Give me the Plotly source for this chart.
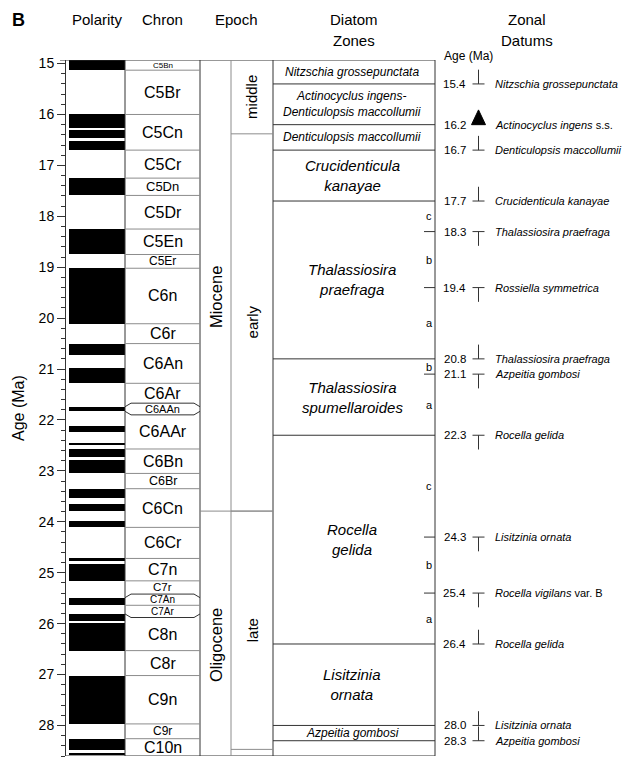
import plotly.graph_objects as go

# ---------------- DATA ----------------
Y_TOP, Y_BOT = 14.93, 28.6

# normal-polarity (black) intervals, Ma
polarity_top = [14.93, 16.00, 16.30, 16.52, 17.25, 18.25, 19.02, 20.50, 20.98, 21.74,
                22.12, 22.45, 22.57, 22.79, 23.35, 23.66, 23.98, 24.72, 24.82, 25.49,
                25.81, 25.99, 27.02, 28.26, 28.54]
polarity_base = [15.13, 16.26, 16.47, 16.70, 17.59, 18.75, 20.11, 20.72, 21.28, 21.83,
                 22.23, 22.49, 22.72, 23.05, 23.53, 23.79, 24.11, 24.77, 25.16, 25.64,
                 25.95, 26.53, 27.97, 28.49, 28.58]

chron_names = ["C5Bn", "C5Br", "C5Cn", "C5Cr", "C5Dn", "C5Dr", "C5En", "C5Er", "C6n", "C6r",
               "C6An", "C6Ar", "C6AAn", "C6AAr", "C6Bn", "C6Br", "C6Cn", "C6Cr", "C7n", "C7r",
               "C7An", "C7Ar", "C8n", "C8r", "C9n", "C9r", "C10n"]
chron_top = [14.93, 15.13, 16.00, 16.70, 17.25, 17.59, 18.25, 18.75, 19.02, 20.11,
             20.50, 21.28, 21.74, 21.83, 22.57, 23.05, 23.35, 24.11, 24.72, 25.16,
             25.49, 25.64, 25.81, 26.53, 27.02, 27.97, 28.26]
chron_base = chron_top[1:] + [28.6]

epoch_names = ["Miocene", "Oligocene"]
epoch_top = [14.93, 23.79]
epoch_base = [23.79, 28.6]

subepoch_names = ["middle", "early", "late", ""]
subepoch_top = [14.93, 16.38, 23.79, 28.47]
subepoch_base = [16.38, 23.79, 28.47, 28.6]

zone_names = ["Nitzschia grossepunctata", "Actinocyclus ingens-<br>Denticulopsis maccollumii",
              "Denticulopsis maccollumii", "Crucidenticula<br>kanayae", "Thalassiosira<br>praefraga",
              "Thalassiosira<br>spumellaroides", "Rocella<br>gelida", "Lisitzinia<br>ornata",
              "Azpeitia gombosi", ""]
zone_top = [14.93, 15.4, 16.2, 16.7, 17.7, 20.8, 22.3, 26.4, 28.0, 28.3]
zone_base = [15.4, 16.2, 16.7, 17.7, 20.8, 22.3, 26.4, 28.0, 28.3, 28.6]

subzone_letters = ["c", "b", "a", "b", "a", "c", "b", "a"]
subzone_top = [17.7, 18.3, 19.4, 20.8, 21.1, 22.3, 24.3, 25.4]
subzone_base = [18.3, 19.4, 20.8, 21.1, 22.3, 24.3, 25.4, 26.4]

datum_age = [15.4, 16.2, 16.7, 17.7, 18.3, 19.4, 20.8, 21.1, 22.3, 24.3, 25.4, 26.4, 28.0, 28.3]
datum_kind = ["up", "tri", "up", "up", "down", "down", "up", "down", "down", "down", "down",
              "up", "up", "up"]
datum_species = ["<i>Nitzschia grossepunctata</i>", "<i>Actinocyclus ingens</i> s.s.",
                 "<i>Denticulopsis maccollumii</i>", "<i>Crucidenticula kanayae</i>",
                 "<i>Thalassiosira praefraga</i>", "<i>Rossiella symmetrica</i>",
                 "<i>Thalassiosira praefraga</i>", "<i>Azpeitia gombosi</i>",
                 "<i>Rocella gelida</i>", "<i>Lisitzinia ornata</i>",
                 "<i>Rocella vigilans</i> var. B", "<i>Rocella gelida</i>",
                 "<i>Lisitzinia ornata</i>", "<i>Azpeitia gombosi</i>"]

# ---------------- STYLE / LAYOUT ----------------
# The page body has an 8px margin; the figure is sized so that it fills the
# window exactly and x data units equal window pixels.
OFF = 8
WIN_W, WIN_H = 641, 765
W, H = WIN_W - OFF, WIN_H - OFF
PLOT_TOP_PX, PLOT_BOT_PX = 60, 756          # window pixels
MT = PLOT_TOP_PX - OFF
MB = H - (PLOT_BOT_PX - OFF)
FONT = "Liberation Sans, Arial, Helvetica, sans-serif"
DARK = "#333333"
GRAY = "#8c8c8c"

X_AXIS = 65
POL_X0, POL_X1 = 69, 125
CHR_X0, CHR_X1 = 125, 200
EP_X0, EP_X1, EP_X2 = 200, 231, 273
ZN_X0, ZN_X1 = 273, 435
SUB_TICK_X0 = 424
DAT_AGE_X, DAT_SYM_X, DAT_TXT_X = 467, 478.5, 494

CHRON_SIZE = {"C5Bn": 8, "C5Dn": 13, "C5Er": 12, "C6AAn": 11, "C6Br": 12.5, "C7r": 11.5,
              "C7An": 10, "C7Ar": 10, "C9r": 12}
BRACKET = {"C6AAn", "C7An", "C7Ar"}
BRACKET_PAD = 0.07
ZONE_SMALL = {"Nitzschia grossepunctata", "Actinocyclus ingens-<br>Denticulopsis maccollumii",
              "Denticulopsis maccollumii", "Azpeitia gombosi"}


def py(px):
    """window pixel row -> paper y"""
    return 1 - (px - PLOT_TOP_PX) / (PLOT_BOT_PX - PLOT_TOP_PX)


fig = go.Figure()

# polarity bars
fig.add_trace(go.Bar(
    x=[(POL_X0 + POL_X1) / 2] * len(polarity_top),
    y=[b - t for t, b in zip(polarity_top, polarity_base)],
    base=polarity_top,
    width=POL_X1 - POL_X0,
    marker=dict(color="black", line=dict(width=0)),
    hoverinfo="skip", showlegend=False))

shapes = []
ann = []


def hline(y, x0, x1, color=DARK, width=1):
    shapes.append(dict(type="line", xref="x", yref="y", x0=x0, x1=x1, y0=y, y1=y,
                       line=dict(color=color, width=width)))


def vline(x, y0, y1, color=DARK, width=1):
    shapes.append(dict(type="line", xref="x", yref="y", x0=x, x1=x, y0=y0, y1=y1,
                       line=dict(color=color, width=width)))


def text(x, y, s, size, angle=0, xanchor="center", yanchor="middle", color="black", yshift=0):
    ann.append(dict(x=x, y=y, xref="x", yref="y", text=s, showarrow=False, textangle=angle,
                    xanchor=xanchor, yanchor=yanchor, yshift=yshift, borderpad=0,
                    font=dict(family=FONT, size=size, color=color)))


# frame
hline(Y_TOP, 60, ZN_X1, DARK)
hline(Y_BOT, X_AXIS, ZN_X1, DARK)
for x, c in [(CHR_X0, DARK), (CHR_X1, DARK), (EP_X1, GRAY), (EP_X2, DARK), (ZN_X1, DARK)]:
    vline(x, Y_TOP, Y_BOT, c)

# chron boxes and labels
disp_top = {}
disp_base = {}
for i, name in enumerate(chron_names):
    disp_top[name] = chron_top[i]
    disp_base[name] = chron_base[i]
for i, name in enumerate(chron_names):
    if name in BRACKET:
        above = chron_names[i - 1] if i > 0 else None
        below = chron_names[i + 1] if i + 1 < len(chron_names) else None
        if above not in BRACKET:
            disp_top[name] = chron_top[i] - BRACKET_PAD
            disp_base[above] = disp_top[name]
        if below not in BRACKET:
            disp_base[name] = chron_base[i] + BRACKET_PAD
            disp_top[below] = disp_base[name]

for i, name in enumerate(chron_names[:-1]):
    b = chron_base[i]
    yd = disp_base[name]
    if yd == b:
        hline(b, CHR_X0, CHR_X1, GRAY)
    else:
        shapes.append(dict(type="path", xref="x", yref="y",
                           path=f"M {CHR_X0},{b} L {CHR_X0 + 6},{yd} L {CHR_X1 - 6},{yd} L {CHR_X1},{b}",
                           line=dict(color=DARK, width=1)))

for i, name in enumerate(chron_names):
    yc = (disp_top[name] + min(disp_base[name], Y_BOT)) / 2
    text((CHR_X0 + CHR_X1) / 2, yc, name, CHRON_SIZE.get(name, 16))

# epochs
for n, t, b in zip(epoch_names, epoch_top, epoch_base):
    if t > Y_TOP:
        hline(t, EP_X0, EP_X2, GRAY)
    text((EP_X0 + EP_X1) / 2, (t + b) / 2, n, 16.5, angle=-90, yshift=-12)
for n, t, b in zip(subepoch_names, subepoch_top, subepoch_base):
    if t > Y_TOP:
        hline(t, EP_X1, EP_X2, GRAY)
    if n:
        text((EP_X1 + EP_X2) / 2, (t + b) / 2, n, 15, angle=-90)

# diatom zones
for n, t, b in zip(zone_names, zone_top, zone_base):
    if t > Y_TOP:
        hline(t, ZN_X0, ZN_X1, DARK)
    if n:
        size = 12 if n in ZONE_SMALL else 15
        text((ZN_X0 + ZN_X1) / 2 - 2, (t + b) / 2, "<i>" + n.replace("<br>", "</i><br><i>") + "</i>", size)

for l, t, b in zip(subzone_letters, subzone_top, subzone_base):
    if t not in zone_top:
        hline(t, SUB_TICK_X0, ZN_X1, DARK)
    text((SUB_TICK_X0 + ZN_X1) / 2 - 0.5, (t + b) / 2, l, 11)

# zonal datums
STEM = 0.28
HALF = 6
for a, k, s in zip(datum_age, datum_kind, datum_species):
    if k == "tri":
        shapes.append(dict(type="path", xref="x", yref="y",
                           path=f"M {DAT_SYM_X - 7},{a} L {DAT_SYM_X + 7},{a} L {DAT_SYM_X},{a - 0.29} Z",
                           fillcolor="black", line=dict(color="black", width=1)))
    else:
        hline(a, DAT_SYM_X - HALF, DAT_SYM_X + HALF, DARK)
        y1 = a - STEM if k == "up" else a + STEM
        vline(DAT_SYM_X, a, y1, DARK)
    text(DAT_AGE_X, a, f"{a:.1f}", 11.5, xanchor="right")
    text(DAT_TXT_X, a, s, 11, xanchor="left")


# headers
def header(x, ypx, s, size=15, bold=False, yanchor="middle"):
    ann.append(dict(x=x, y=py(ypx), xref="x", yref="paper", text=(f"<b>{s}</b>" if bold else s),
                    showarrow=False, xanchor="center", yanchor=yanchor, borderpad=0,
                    font=dict(family=FONT, size=size, color="black")))


header(18, OFF + 1, "B", 18, bold=True, yanchor="top")
header((POL_X0 + POL_X1) / 2, 20, "Polarity")
header((CHR_X0 + CHR_X1) / 2, 20, "Chron")
header((EP_X0 + EP_X2) / 2, 20, "Epoch")
header((ZN_X0 + ZN_X1) / 2, 20, "Diatom")
header((ZN_X0 + ZN_X1) / 2, 41, "Zones")
header(527, 20, "Zonal")
header(527, 41, "Datums")
header(468, 56, "Age (Ma)", 12)

# y-axis title
ann.append(dict(x=18, y=(Y_TOP + Y_BOT) / 2, xref="x", yref="y", text="Age (Ma)", showarrow=False,
                textangle=-90, xanchor="center", yanchor="middle",
                font=dict(family=FONT, size=16, color="black")))

fig.update_layout(
    width=W, height=H,
    margin=dict(l=0, r=0, t=MT, b=MB, pad=0),
    paper_bgcolor="white", plot_bgcolor="white",
    barmode="overlay", bargap=0,
    showlegend=False,
    xaxis=dict(range=[OFF, WIN_W], visible=False, domain=[0, 1], fixedrange=True),
    yaxis=dict(range=[Y_BOT, Y_TOP], anchor="free", position=(X_AXIS - OFF) / W, side="left",
               showline=True, linecolor=DARK, linewidth=1,
               ticks="outside", ticklen=8, tickcolor=DARK, tickwidth=1,
               tick0=15, dtick=1, showgrid=False, zeroline=False,
               tickfont=dict(family=FONT, size=14, color="black"),
               minor=dict(ticks="outside", ticklen=4, dtick=0.2, tick0=15, tickcolor=DARK,
                          showgrid=False)),
    shapes=shapes, annotations=ann,
    font=dict(family=FONT),
)

fig.write_html("out.html")
